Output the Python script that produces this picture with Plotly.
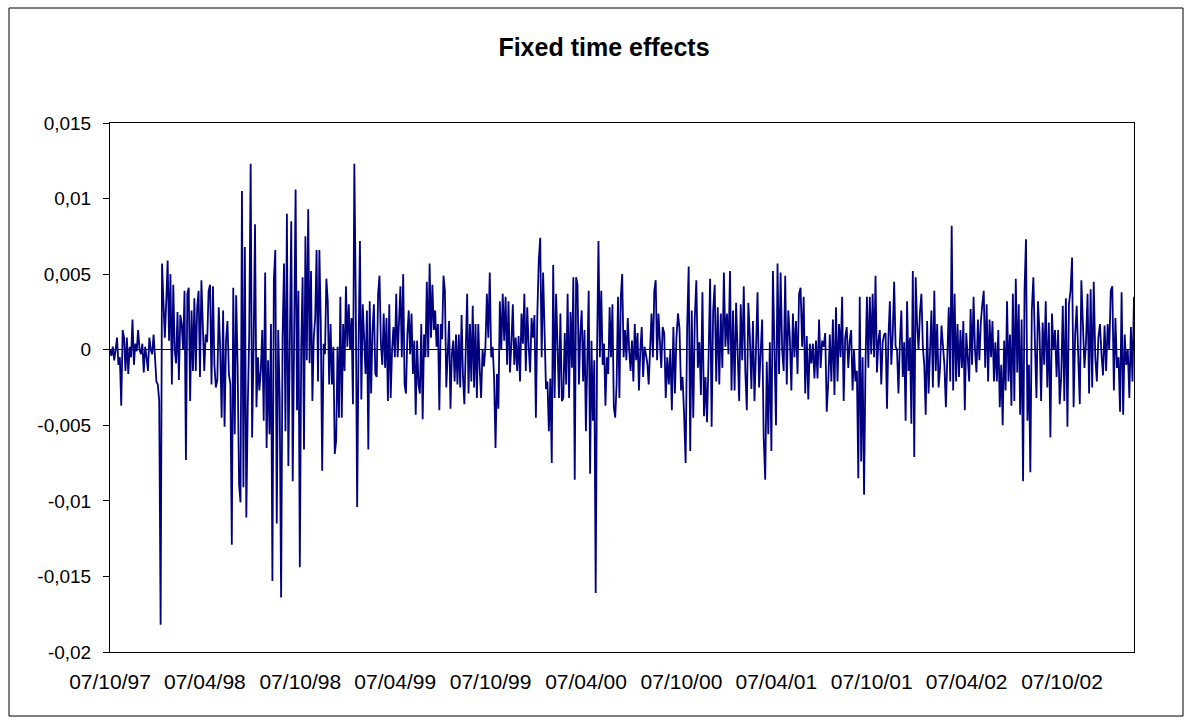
import pandas as pd
import plotly.graph_objects as go

# Fixed time effects (values in units of 1e-3),
# one list per stretch of the time axis; the stretches run between consecutive
# dates of part_bounds.
effects_part1 = [0.0, -0.4, 0.2, -0.7, 0.0, 0.8, -1.0, -0.5, -3.7, 1.3, 0.8, -1.4, 0.8, -1.6, 0.2, -0.5,
                 2.0, -1.0, 0.4, -0.1, 1.3, 0.0, -0.3, 0.4, -1.5, 0.2, -0.5, -1.4, 0.8, 0.0, -0.3, 1.0,
                 -0.5, -2.1, -2.3, -3.4, -18.2, 5.7, 3.2, 0.8, 3.2, 5.9, 0.6, 5.0, -2.3, 4.3, 0.0, -0.9,
                 2.5, -2.0, 2.3, 1.7, 0.0, 3.9, -7.3, 3.7, 4.1, -3.4, 2.6, -1.4, 3.4, -1.4, 2.8, 3.9,
                 -1.8, 4.6]
effects_part2 = [-1.4, 1.0, 0.5, 3.9, 4.3, -2.3, 4.2, -1.0, -2.5, -2.0, 2.8, 0.0, -4.5, 2.6, -5.1, 0.6,
                 1.9, -1.6, -2.3, -12.9, 4.1, -5.6, 3.6, -1.0, -8.9, -10.1, 10.5, -9.1, 6.8, -11.1, -3.8,
                 1.0, 12.3, -5.8, 0.0, 8.3, -3.8, -0.5, -2.7, -1.4, 1.3, -4.7, 5.1, -6.5, -0.7, -5.6, 1.7,
                 -15.3, 4.7, 6.6, -11.5, 1.3, -3.1, -16.4, 0.8, 5.7, -5.4, 9.0, -7.7, 0.0, 8.5, -8.7, 0.2,
                 10.6]
effects_part3 = [-4.0, 3.9, -14.4, 0.0, 4.8, -6.6, 7.5, -0.7, 9.3, -0.9, 5.2, -3.4, 0.8, 2.1, 6.6, -2.1,
                 6.6, 1.8, -8.0, 0.4, -0.3, 4.7, 3.2, -2.3, 1.7, -2.3, 0.2, -6.9, -6.0, 0.2, -4.5, 3.5,
                 -4.5, 1.7, -1.4, 4.2, 0.2, 3.0, 0.0, 2.1, -3.6, 12.3, 3.5, -10.4, 0.0, 7.2, -3.3, 3.0,
                 0.8, -1.6, 2.6, -6.6, 3.2, -2.9, 1.3, 3.0, -1.6, -1.8, 3.7, 4.9, 0.4, -1.0, 2.4, -1.2,
                 2.1, -3.4]
effects_part4 = [3.0, -3.2, 0.0, 1.5, -0.5, 3.7, -0.5, 2.4, 4.2, -0.5, 5.0, -2.3, -2.9, 1.0, 2.6, -0.3,
                 2.4, -1.6, 0.6, -4.3, 0.6, -2.3, -2.9, 1.7, -4.6, 1.0, -0.5, 4.5, -0.5, 5.7, 0.8, 4.3,
                 1.3, 2.6, 0.2, 1.7, -4.0, 1.7, 0.7, 4.9, 3.9, -2.5, 0.0, 1.9, -3.9, -0.3, 0.6, -2.1,
                 1.0, -2.3, 1.0, -2.5, 2.3, -1.8, -3.6, 1.3, 3.7, -2.9, 1.7, -2.1, 2.9, -2.5, 1.7, -3.2,
                 1.7, -1.2]
effects_part5 = [-3.2, 0.0, -1.1, 0.2, 3.7, 0.8, 5.1, -0.5, 0.2, -1.8, -6.5, -1.6, -3.9, 3.2, 0.0, 3.7,
                 0.6, 3.5, -1.0, 3.2, -1.5, 0.4, 3.0, -1.0, 0.8, -1.4, 0.9, -2.1, 2.4, 0.4, 3.7, -1.4,
                 2.8, 0.2, -1.5, 2.1, 0.8, 2.3, -4.5, 2.4, 5.9, 7.4, -0.5, 5.1, 0.6, -2.6, -2.1, -5.4,
                 -1.9, -7.5, 5.6, -3.2, 3.7, 0.6, -3.2, 2.4, -3.4, -3.2, 1.1, -2.3, 3.7, -3.2, 2.5, -1.2]
effects_part6 = [4.8, -8.6, 4.8, 4.3, -2.3, 1.1, 2.6, -2.1, 1.3, -5.4, 0.6, 3.9, -8.2, 0.6, -4.7, -0.7,
                 -16.1, 0.0, 7.2, -0.5, 3.9, -1.0, 0.4, -3.7, -0.5, -1.6, 2.8, -0.5, 3.0, -3.8, -4.5,
                 -2.3, 3.5, -3.2, 3.5, 5.0, -0.5, 1.3, -0.7, 2.1, 0.0, -1.4, 0.6, -2.1, 1.7, -0.7, 1.1,
                 -2.7, 0.0, 1.5, -1.8, 0.2, -0.3, -0.9, -2.3, 0.8, 2.4, -0.5, 3.9, 4.6, -0.7, 2.4, 0.8,
                 -1.2, 1.5]
effects_part7 = [1.1, -3.2, -0.5, -2.3, 0.0, -4.0, 1.5, -2.9, 0.8, 2.4, 1.4, -2.7, -1.8, -4.3, -7.5, 1.5,
                 5.5, -6.7, 2.6, -4.5, 2.1, 4.6, -1.2, 0.5, -3.0, 3.8, -4.4, -1.8, -4.8, -0.5, 4.7, -5.1,
                 2.6, 4.3, -2.1, 2.8, -2.3, 2.4, -1.2, 5.1, 0.2, 2.4, -0.3, 5.2, -2.7, 2.6, -2.7, 3.1,
                 0.0, -3.4, 3.0, -0.7, 4.2, -1.4, -4.0, 3.1, 0.8, -2.6, 1.9, -3.4, 0.0]
effects_part8 = [3.8, -2.5, -0.3, 2.0, -5.8, -8.6, -0.8, -5.6, 0.5, -6.7, 5.2, 0.4, -5.0, 5.7, -1.6, 5.1,
                 0.0, -1.4, 4.9, -2.3, 2.6, 0.8, -2.7, 2.4, -0.5, 1.9, -1.6, 3.7, 4.1, 0.2, 3.5, -2.9,
                 0.9, -3.3, 0.4, -0.9, 0.4, -1.9, 0.6, -1.9, 2.0, -1.2, 0.6, 0.2, 1.1, -4.1, -2.1, 1.0,
                 -2.1, 2.0, -3.0, 2.8, -2.1, 1.7, -0.5, 3.5, -3.4, 0.8, 1.5, -1.2]
effects_part9 = [0.6, 1.3, -2.7, 0.0, -2.1, -1.4, -8.5, 3.5, -7.4, -0.5, -9.6, -1.0, 3.5, -1.2, 3.5, -0.3,
                 3.7, -0.5, 4.9, -1.5, 0.6, 1.3, -2.3, 0.5, 1.0, 1.1, -3.9, 0.8, 3.2, -1.0, 1.0, 4.5,
                 0.2, 0.0, -2.9, 0.5, 2.6, -1.8, 0.5, -4.7, 3.2, -1.4, 0.8, -4.9, 5.2, -7.1, 4.8, 1.7,
                 0.0, 2.5, 3.7, 0.2, -1.0, -4.3, 1.9, -2.9, 0.3, 2.6, -2.5, 3.9, -1.4, 1.7, -2.5, -1.2]
effects_part10 = [1.6, 0.2, -1.0, -3.8, 0.0, 2.8, -2.1, 8.2, -2.7, 3.7, -2.1, 1.7, -1.8, 1.3, -1.2, 1.9,
                  -4.0, 1.1, -0.5, -2.1, 2.7, -1.0, 3.5, 0.0, -1.5, 2.0, -0.7, 1.8, 3.0, 3.9, -1.2, 3.0,
                  -2.1, 2.0, -0.5, 1.9, -2.1, 0.5, -2.1, 1.3, -3.8, -1.0, -5.0, 0.6, -2.7, 3.2, -2.1, 1.0,
                  -3.7, 3.7, -3.4, 4.7, -1.5, 3.0, -4.3, 2.0, -8.7, 3.9, 7.3, -4.7, -1.0, -8.1, 2.6]
effects_part11 = [4.8, 0.5, -3.2, 3.2, 1.1, -3.4, 1.8, -1.0, 3.2, -2.5, 1.8, -5.8, 2.4, 0.0, 1.3, -1.8,
                  1.3, -3.6, -1.8, 2.9, -3.4, 3.4, -5.1, 3.0, 3.9, 6.1, -3.8, 1.0, 2.9, -0.5, -3.6, 4.6,
                  1.3, -1.2, 0.5, 3.7, -2.9, 4.0, -2.5, 4.5, -0.5, -2.1, 0.8, 1.7, -0.3, -1.7, 1.6, -1.4,
                  1.7, 0.0, 3.9, 4.2, -2.7, 2.1, -1.2, -0.5, -4.1, 3.8, -4.3, 1.0, -1.0, 0.0, -3.2, 1.5,
                  -2.1, 3.5]

# date span of each part (12 bounds for 11 parts)
part_bounds = ["1997-10-07", "1998-04-03", "1998-09-28", "1999-03-24", "1999-09-16", "2000-03-11",
               "2000-09-01", "2001-02-27", "2001-08-23", "2002-02-15", "2002-08-10", "2003-02-22"]

x_tick_dates = ["1997-10-07", "1998-04-07", "1998-10-07", "1999-04-07", "1999-10-07", "2000-04-07",
                "2000-10-07", "2001-04-07", "2001-10-07", "2002-04-07", "2002-10-07"]
x_tick_labels = ["07/10/97", "07/04/98", "07/10/98", "07/04/99", "07/10/99", "07/04/00",
                 "07/10/00", "07/04/01", "07/10/01", "07/04/02", "07/10/02"]
y_tick_values = [-0.02, -0.015, -0.01, -0.005, 0.0, 0.005, 0.01, 0.015]
y_tick_labels = ["-0,02", "-0,015", "-0,01", "-0,005", "0", "0,005", "0,01", "0,015"]

parts = [effects_part1, effects_part2, effects_part3, effects_part4, effects_part5, effects_part6,
         effects_part7, effects_part8, effects_part9, effects_part10, effects_part11]

dates, effects = [], []
for i, p in enumerate(parts):
    rng = pd.date_range(part_bounds[i], part_bounds[i + 1], periods=len(p) + 1)
    span = rng[:-1] if i == 0 else rng[1:]
    dates.extend(span)
    effects.extend(v / 1000.0 for v in p)

fig = go.Figure()
fig.add_trace(go.Scatter(x=dates, y=effects, mode="lines",
                         line=dict(color="#000080", width=1.8), hoverinfo="x+y"))

W, H = 1192, 718
L, R, T, B = 110, 58, 123, 66
pw, ph = W - L - R, H - T - B

fig.update_layout(
    width=W, height=H,
    margin=dict(l=L, r=R, t=T, b=B, pad=0),
    paper_bgcolor="white", plot_bgcolor="white",
    font=dict(family="Liberation Sans, Arial, sans-serif", size=19, color="black"),
    showlegend=False,
    title=dict(text="<b>Fixed time effects</b>", x=604 / W, xanchor="center",
               y=1 - 47 / H, yanchor="middle", xref="container", yref="container",
               font=dict(size=25, color="black")),
    xaxis=dict(type="date", range=[part_bounds[0], part_bounds[-1]], tickvals=x_tick_dates,
               ticktext=x_tick_labels, ticks="", showgrid=False, zeroline=False,
               showline=True, linecolor="black", linewidth=1, mirror=True,
               ticklabelstandoff=11, tickfont=dict(size=21)),
    yaxis=dict(range=[-0.02, 0.015], tickvals=y_tick_values, ticktext=y_tick_labels,
               ticks="outside", ticklen=6, tickcolor="black", tickwidth=1,
               showgrid=False, zeroline=True, zerolinecolor="black", zerolinewidth=1,
               showline=True, linecolor="black", linewidth=1, mirror=True,
               ticklabelstandoff=8),
    shapes=[dict(type="rect", xref="paper", yref="paper",
                 x0=(9 - L) / pw, x1=(1183 - L) / pw,
                 y0=(H - B - 716) / ph, y1=(H - B - 8) / ph,
                 line=dict(color="black", width=1), fillcolor="rgba(0,0,0,0)", layer="below")],
)

fig.write_html("out.html", config={"displayModeBar": False},
               post_script="document.body.style.margin='0';document.body.style.overflow='hidden';")
